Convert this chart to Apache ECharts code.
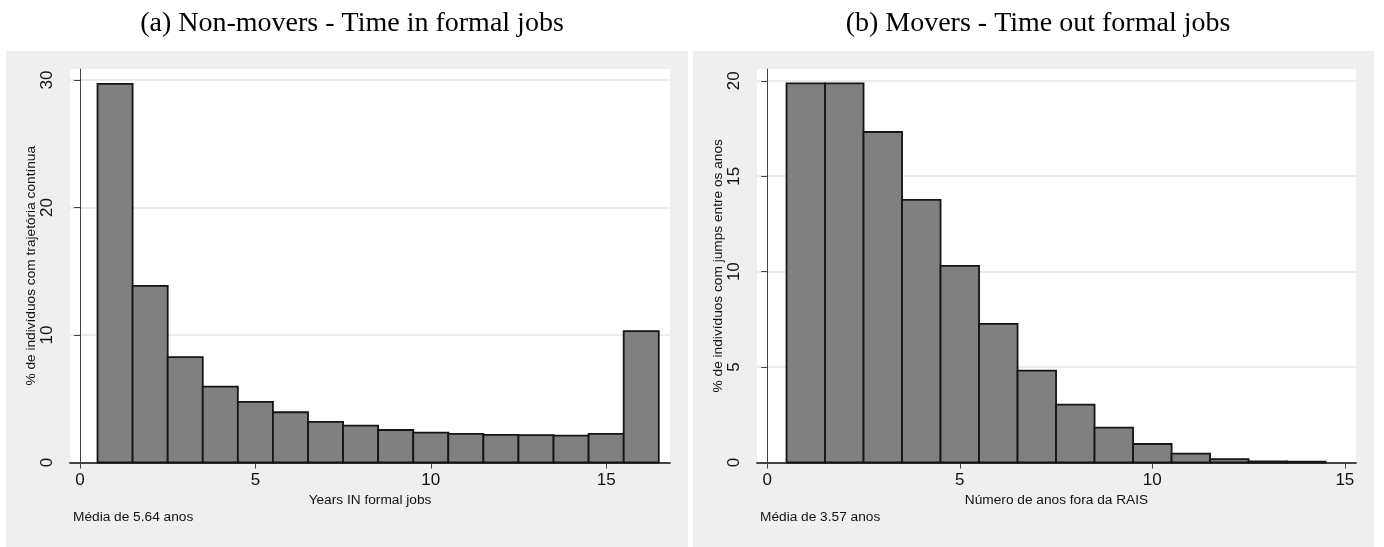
<!DOCTYPE html>
<html>
<head>
<meta charset="utf-8">
<script src="https://cdn.jsdelivr.net/npm/echarts@6/dist/echarts.min.js"></script>
<style>
  html, body { margin: 0; padding: 0; background: #ffffff; }
  #chart { width: 1384px; height: 547px; }
</style>
</head>
<body>
<div id="chart"></div>
<script>
// Histogram bins (years) and shares (%) for each panel
const yearsIn = [1, 2, 3, 4, 5, 6, 7, 8, 9, 10, 11, 12, 13, 14, 15, 16];
const shareNonMovers = [29.7, 13.85, 8.27, 5.95, 4.75, 3.94, 3.18, 2.89, 2.55, 2.34, 2.24, 2.16, 2.15, 2.10, 2.24, 10.31];

const yearsOut = [1, 2, 3, 4, 5, 6, 7, 8, 9, 10, 11, 12, 13, 14];
const shareMovers = [19.87, 19.87, 17.32, 13.76, 10.30, 7.26, 4.81, 3.03, 1.83, 0.97, 0.46, 0.18, 0.06, 0.04];

const xTicks = [0, 5, 10, 15];
const yTicksLeft = [0, 10, 20, 30];
const yTicksRight = [0, 5, 10, 15, 20];

const panelTitles = ['(a) Non-movers - Time in formal jobs', '(b) Movers - Time out formal jobs'];
const xNames = ['Years IN formal jobs', 'Número de anos fora da RAIS'];
const yNames = ['% de indivíduos com trajetória contínua', '% de indivíduos com jumps entre os anos'];
const notes = ['Média de 5.64 anos', 'Média de 3.57 anos'];

const SANS = 'Liberation Sans, Arial, sans-serif';
const SERIF = 'Liberation Serif, Times New Roman, serif';
const AXIS_COLOR = '#444444';
const GRID_COLOR = '#e6e6e6';

function xAxisFor(gridIndex, min, max, name) {
  return {
    type: 'value', gridIndex, min, max,
    name, nameLocation: 'middle', nameGap: 27,
    nameTextStyle: { fontFamily: SANS, fontSize: 13.7, color: '#111' },
    axisLine: { show: true, onZero: false, lineStyle: { color: AXIS_COLOR, width: 1.8 } },
    axisTick: { show: true, length: 6, customValues: xTicks, lineStyle: { color: AXIS_COLOR, width: 1 } },
    axisLabel: { customValues: xTicks, fontFamily: SANS, fontSize: 17, color: '#111', margin: 9 },
    splitLine: { show: false }
  };
}

function yAxisFor(gridIndex, max, ticks, name) {
  return {
    type: 'value', gridIndex, min: 0, max,
    name, nameLocation: 'middle', nameGap: 31,
    nameTextStyle: { fontFamily: SANS, fontSize: 13.7, color: '#111' },
    axisLine: { show: true, lineStyle: { color: AXIS_COLOR, width: 1 } },
    axisTick: { show: true, length: 6, customValues: ticks, lineStyle: { color: AXIS_COLOR, width: 1 } },
    axisLabel: { customValues: ticks, rotate: 90, fontFamily: SANS, fontSize: 17, color: '#111', margin: 14 },
    splitLine: {
      show: true,
      lineStyle: { color: ticks.map(() => GRID_COLOR).concat(['rgba(0,0,0,0)']), width: 1.5 }
    }
  };
}

function histSeries(idx, xs, ys) {
  return {
    type: 'custom', xAxisIndex: idx, yAxisIndex: idx,
    data: xs.map((x, i) => [x, ys[i]]),
    renderItem: function (params, api) {
      const x = api.value(0), v = api.value(1);
      const p0 = api.coord([x - 0.5, v]);
      const p1 = api.coord([x + 0.5, 0]);
      return {
        type: 'rect',
        shape: { x: p0[0], y: p0[1], width: p1[0] - p0[0], height: p1[1] - p0[1] },
        style: { fill: '#808080', stroke: '#151515', lineWidth: 1.8 }
      };
    }
  };
}

const chart = echarts.init(document.getElementById('chart'), null, { renderer: 'canvas' });

chart.setOption({
  backgroundColor: '#ffffff',
  animation: false,
  title: [
    { text: panelTitles[0], left: 347, top: 5, textAlign: 'center',
      textStyle: { fontFamily: SERIF, fontSize: 28, fontWeight: 'normal', color: '#000' } },
    { text: panelTitles[1], left: 1033, top: 5, textAlign: 'center',
      textStyle: { fontFamily: SERIF, fontSize: 28, fontWeight: 'normal', color: '#000' } }
  ],
  graphic: [
    { type: 'rect', z: -10, shape: { x: 6, y: 51, width: 682, height: 496 }, style: { fill: '#efefef' } },
    { type: 'rect', z: -10, shape: { x: 693, y: 51, width: 681, height: 496 }, style: { fill: '#efefef' } },
    { type: 'text', left: 73, top: 510, style: { text: notes[0], font: '13.7px ' + SANS, fill: '#111' } },
    { type: 'text', left: 760, top: 510, style: { text: notes[1], font: '13.7px ' + SANS, fill: '#111' } }
  ],
  grid: [
    { left: 70, right: 714, top: 69, bottom: 84.5, show: true, backgroundColor: '#ffffff', borderWidth: 0 },
    { left: 757, right: 28, top: 69, bottom: 84.5, show: true, backgroundColor: '#ffffff', borderWidth: 0 }
  ],
  xAxis: [
    xAxisFor(0, -0.285, 16.82, xNames[0]),
    xAxisFor(1, -0.267, 15.29, xNames[1])
  ],
  yAxis: [
    yAxisFor(0, 30.86, yTicksLeft, yNames[0]),
    yAxisFor(1, 20.62, yTicksRight, yNames[1])
  ],
  series: [
    histSeries(0, yearsIn, shareNonMovers),
    histSeries(1, yearsOut, shareMovers)
  ]
});
</script>
</body>
</html>
